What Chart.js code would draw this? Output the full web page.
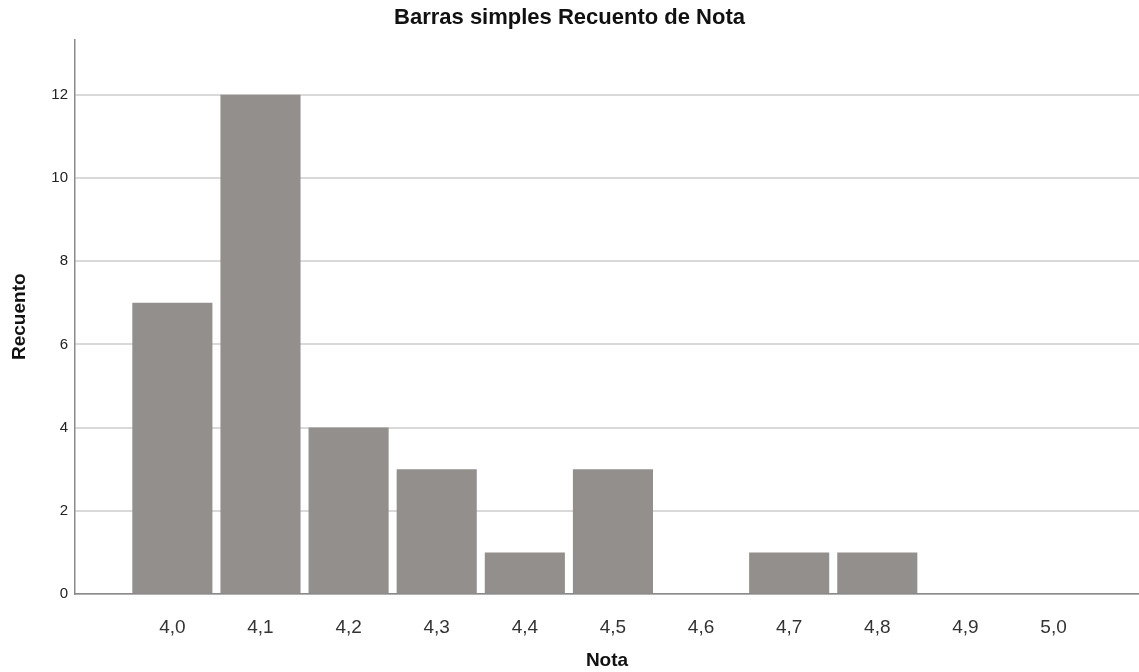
<!DOCTYPE html>
<html>
<head>
<meta charset="utf-8">
<title>Barras simples Recuento de Nota</title>
<script src="https://cdn.jsdelivr.net/npm/chart.js@4.4.1/dist/chart.umd.min.js"></script>
<style>
  html, body { margin: 0; padding: 0; background: #ffffff; }
  #wrap { width: 1139px; height: 672px; position: relative; }
</style>
</head>
<body>
<div id="wrap"><canvas id="notaChart"></canvas></div>
<script>
// values
const notas = [4.0, 4.1, 4.2, 4.3, 4.4, 4.5, 4.6, 4.7, 4.8, 4.9, 5.0];
const recuento = [7, 12, 4, 3, 1, 3, 0, 1, 1, 0, 0];
const yTicks = [0, 2, 4, 6, 8, 10, 12];

const FONT = "'Liberation Sans', Arial, Helvetica, sans-serif";

const ctx = document.getElementById('notaChart').getContext('2d');

const chart = new Chart(ctx, {
  type: 'bar',
  data: {
    datasets: [{
      label: 'Recuento',
      data: notas.map((n, i) => ({ x: n, y: recuento[i] })),
      backgroundColor: '#938f8d',
      borderWidth: 0,
      categoryPercentage: 1,
      barPercentage: 0.909
    }]
  },
  options: {
    responsive: true,
    maintainAspectRatio: false,
    animation: false,
    layout: { padding: 0 },
    plugins: {
      legend: { display: false },
      tooltip: { enabled: false },
      title: {
        display: true,
        text: 'Barras simples Recuento de Nota',
        color: '#111111',
        font: { family: FONT, size: 22, weight: 'bold' },
        padding: { top: 5, bottom: 8 }
      }
    },
    scales: {
      x: {
        type: 'linear',
        offset: false,
        min: 3.8895,
        max: 5.097,
        grid: { display: false },
        border: { display: true, color: '#8a8a8a', width: 1.5 },
        afterBuildTicks: (scale) => { scale.ticks = notas.map(v => ({ value: v })); },
        afterFit: (scale) => { scale.height = 78; },
        ticks: {
          color: '#333333',
          font: { family: FONT, size: 19 },
          padding: 14,
          maxRotation: 0,
          autoSkip: false,
          callback: (v) => Number(v).toFixed(1).replace('.', ',')
        },
        title: {
          display: true,
          text: 'Nota',
          color: '#111111',
          font: { family: FONT, size: 19, weight: 'bold' },
          padding: { top: 0, bottom: 0 }
        }
      },
      y: {
        min: 0,
        max: 13.33,
        grid: { color: '#d9d9d9', lineWidth: 2, drawTicks: false },
        border: { display: true, color: '#8a8a8a', width: 1.5 },
        afterBuildTicks: (scale) => { scale.ticks = yTicks.map(v => ({ value: v })); },
        afterFit: (scale) => { scale.width = 75; },
        ticks: {
          color: '#222222',
          font: { family: FONT, size: 15 },
          padding: 7
        },
        title: {
          display: true,
          text: 'Recuento',
          color: '#111111',
          font: { family: FONT, size: 19, weight: 'bold' },
          padding: { top: 8, bottom: 0 }
        }
      }
    }
  }
});
</script>
</body>
</html>
